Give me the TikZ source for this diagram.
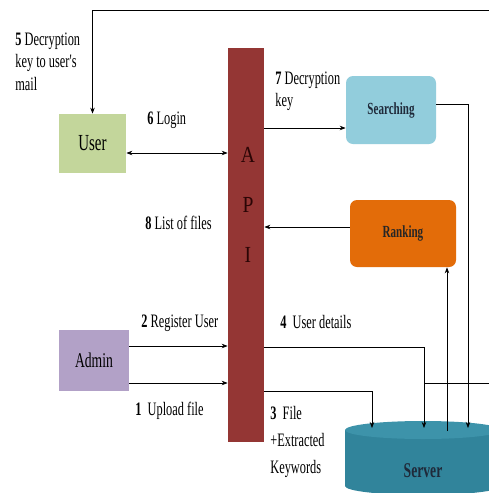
\documentclass[tikz,border=0pt]{standalone}
\usepackage{fontspec}
\setmainfont{Liberation Serif}
\newfontfamily\cond[FakeStretch=0.65]{Liberation Serif}
\newfontfamily\wide[FakeStretch=0.85]{Liberation Serif}
\usetikzlibrary{arrows.meta}

\definecolor{usergreen}{HTML}{C3D69B}
\definecolor{adminpurple}{HTML}{B2A1C7}
\definecolor{apired}{HTML}{943634}
\definecolor{apiletter}{HTML}{2A0505}
\definecolor{searchblue}{HTML}{92CDDC}
\definecolor{rankorange}{HTML}{E36C09}
\definecolor{serverteal}{HTML}{31849B}
\definecolor{servertop}{HTML}{3D93AA}
\definecolor{boxtext}{HTML}{1F2A3A}

\tikzset{
  box/.style={rectangle, draw=none, inner sep=0pt},
  rbox/.style={rectangle, rounded corners=7pt, draw=none, inner sep=0pt},
  lbl/.style={font=\cond\fontsize{19}{22.5}\selectfont, anchor=west, align=left, inner sep=0pt}
}

\begin{document}
\begin{tikzpicture}[x=1pt, y=-1pt, >={Stealth[length=6pt,width=4.5pt]}, line width=0.7pt]
    \useasboundingbox (0,0) rectangle (489,493);
    \fill[white] (0,0) rectangle (489,493);

    \node[box, fill=usergreen, minimum width=67pt, minimum height=59pt, font=\cond\fontsize{23}{26}\selectfont] (user) at (92.5,143.5) {User};
    \node[box, fill=adminpurple, minimum width=70pt, minimum height=61pt, font=\cond\fontsize{21}{24}\selectfont] (admin) at (94,360.5) {Admin};
    \node[box, fill=apired, minimum width=36pt, minimum height=394pt] (api) at (246,245) {};
    \node[align=center, text=apiletter, font=\wide\fontsize{23}{50}\selectfont] (apiname) at (248,205) {A\\P\\I};
    \node[rbox, fill=searchblue, minimum width=90pt, minimum height=68pt, text=boxtext, font=\cond\fontsize{17}{20}\selectfont\bfseries] (search) at (391,110) {Searching};
    \node[rbox, fill=rankorange, minimum width=106pt, minimum height=67pt, text=black!85, font=\cond\fontsize{17}{20}\selectfont\bfseries] (rank) at (403,233.5) {Ranking};

    % server drum
    \fill[serverteal] (345,430) rectangle (501,486);
    \fill[serverteal] (423,486) ellipse [x radius=78pt, y radius=9pt];
    \fill[servertop] (423,430) ellipse [x radius=78pt, y radius=9pt];
    \node[text=boxtext, font=\cond\fontsize{21}{24}\selectfont\bfseries] (server) at (423,471) {Server};

    \coordinate (s1) at (372,428);
    \coordinate (s2) at (424,428);
    \coordinate (s3) at (447,431);
    \coordinate (s4) at (468,428);
    \coordinate (mailback) at (496,383);

    \draw[<->] ([yshift=-9.5pt]user.east) -- ([yshift=-9.5pt]user.east -| api.west);
    \draw[->] ([yshift=-18pt]search.west -| api.east) -- ([yshift=-18pt]search.west);
    \draw[->] ([yshift=6pt]search.east) -| (s4);
    \draw[->] ([yshift=6.5pt]rank.west) -- ([yshift=6.5pt]rank.west -| api.east);
    \draw[->] (s3) -- (s3 |- rank.south);
    \draw[->] ([yshift=14.5pt]admin.east) -- ([yshift=14.5pt]admin.east -| api.west);
    \draw[->] ([yshift=-22.5pt]admin.east) -- ([yshift=-22.5pt]admin.east -| api.west);
    \draw[->] (api.east |- 0,347) -| (s2);
    \draw[->] (api.east |- 0,391) -| (s1);
    \draw[->] (s2 |- 0,383) -- (mailback) -- (mailback |- 0,10) -| (user.north);

    \node[lbl] (mail) at (15,61.5) {\textbf{5} Decryption\\key to user's\\mail};
    \node[lbl] (login) at (147,120) {\textbf{6} Login};
    \node[lbl] (list) at (145,223) {\textbf{8} List of files};
    \node[lbl] (deckey) at (275,91.5) {\textbf{7} Decryption\\key};
    \node[lbl] (register) at (141,323) {\textbf{2} Register User};
    \node[lbl] (upload) at (135,411) {\textbf{1}\ \ Upload file};
    \node[lbl] (details) at (280,322) {\textbf{4}\ \ User details};
    \node[lbl, font=\cond\fontsize{19}{27}\selectfont] (filekw) at (270,442) {\textbf{3}\ \ File\\+Extracted\\Keywords};
  \end{tikzpicture}
\end{document}
